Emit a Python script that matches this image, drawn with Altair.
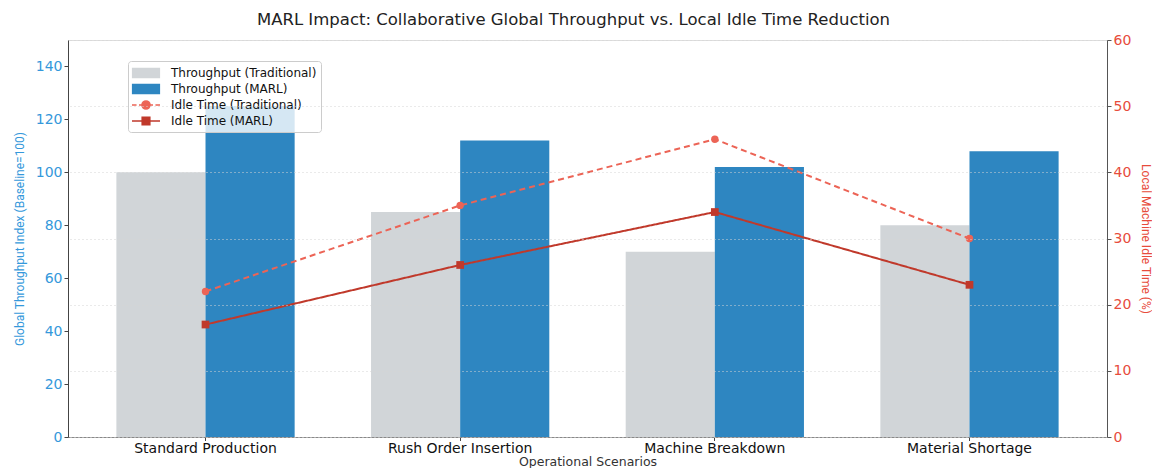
import altair as alt
import pandas as pd

scenarios = ["Standard Production", "Rush Order Insertion", "Machine Breakdown", "Material Shortage"]
throughput_traditional = [100, 85, 70, 80]
throughput_marl = [125, 112, 102, 108]
idle_traditional = [22, 35, 45, 30]
idle_marl = [17, 26, 34, 23]

series_names = ["Throughput (Traditional)", "Throughput (MARL)", "Idle Time (Traditional)", "Idle Time (MARL)"]
series_colors = ["#d1d5d8", "#2e86c1", "#ec6456", "#c0392b"]

bars_df = pd.DataFrame(
    [{"scenario": s, "series": series_names[0], "value": v} for s, v in zip(scenarios, throughput_traditional)]
    + [{"scenario": s, "series": series_names[1], "value": v} for s, v in zip(scenarios, throughput_marl)]
)
lines_df = pd.DataFrame(
    [{"scenario": s, "series": series_names[2], "value": v} for s, v in zip(scenarios, idle_traditional)]
    + [{"scenario": s, "series": series_names[3], "value": v} for s, v in zip(scenarios, idle_marl)]
)

H_FONT = "DejaVu Sans"
V_FONT = "Roboto"

x_enc = alt.X(
    "scenario:N",
    sort=scenarios,
    scale=alt.Scale(paddingInner=0.3, paddingOuter=0.19),
    axis=alt.Axis(
        title="Operational Scenarios",
        titleFont=H_FONT, titleFontSize=12.5, titleFontWeight="normal", titleColor="#333",
        titlePadding=0,
        labelAngle=0, labelFont=H_FONT, labelFontSize=14, labelColor="#111", labelPadding=1,
        domainColor="#888", tickColor="#444", tickSize=3.5,
    ),
)

# colour mapping used by the plotted marks (domain listed in reverse order so that
# it stays a separate legend group from the custom legend below)
color_scale = alt.Scale(domain=series_names[::-1], range=series_colors[::-1])

bars = alt.Chart(bars_df).mark_bar().encode(
    x=x_enc,
    xOffset=alt.XOffset("series:N", sort=series_names[:2], scale=alt.Scale(paddingInner=0, paddingOuter=0)),
    y=alt.Y(
        "value:Q",
        scale=alt.Scale(domain=[0, 150], nice=False),
        axis=alt.Axis(
            title="Global Throughput Index (Baseline=100)",
            values=[0, 20, 40, 60, 80, 100, 120, 140],
            grid=False,
            titleFont=V_FONT, titleFontSize=12, titleFontWeight="normal", titleColor="#3498db",
            titlePadding=9,
            labelFont=H_FONT, labelFontSize=14, labelColor="#3498db",
            domainColor="#444", tickColor="#444", tickSize=4,
        ),
    ),
    color=alt.Color("series:N", scale=color_scale, legend=None),
)

y_right = alt.Y(
    "value:Q",
    scale=alt.Scale(domain=[0, 60], nice=False),
    axis=alt.Axis(
        orient="right",
        title="Local Machine Idle Time (%)",
        values=[0, 10, 20, 30, 40, 50, 60],
        grid=True, gridColor="#d4d4d4", gridDash=[1, 3], gridWidth=1,
        titleFont=V_FONT, titleFontSize=12, titleFontWeight="normal", titleColor="#e74c3c",
        titlePadding=8,
        labelFont=H_FONT, labelFontSize=14, labelColor="#e74c3c",
        domainColor="#555", tickColor="#555", tickSize=4,
        zindex=1,
    ),
)

# legend glyphs (unit = 7 px with symbolSize 196)
rect_path = "M-1.9,-0.62H1.9V0.62H-1.9Z"
dash_circle_path = (
    "M-2,0H-1.35M-1.0,0H-0.4M0.4,0H1.0M1.35,0H2"
    "M0.57,0A0.57,0.57 0 1 1 -0.57,0A0.57,0.57 0 1 1 0.57,0Z"
)
line_square_path = "M-2,0H2M-0.54,-0.54H0.54V0.54H-0.54Z"

legend_layer = alt.Chart(lines_df).mark_point(size=0, opacity=1, filled=True).encode(
    x=x_enc,
    y=y_right,
    fill=alt.Fill(
        "series:N",
        scale=alt.Scale(domain=series_names, range=series_colors),
        legend=alt.Legend(
            title=None, orient="none", legendX=60, legendY=21,
            fillColor="rgba(255,255,255,0.8)", strokeColor="#cccccc", cornerRadius=3,
            padding=4, rowPadding=-1.5,
            labelFont=H_FONT, labelFontSize=12, labelColor="#111", labelOffset=17,
            symbolSize=196, symbolOffset=6, symbolStrokeWidth=1.6, symbolOpacity=1,
        ),
    ),
    stroke=alt.Stroke("series:N", scale=alt.Scale(domain=series_names, range=series_colors)),
    shape=alt.Shape(
        "series:N",
        scale=alt.Scale(domain=series_names, range=[rect_path, rect_path, dash_circle_path, line_square_path]),
    ),
)

lines = alt.Chart(lines_df).mark_line(strokeWidth=2).encode(
    x=x_enc,
    y=y_right,
    color=alt.Color("series:N", scale=color_scale, legend=None),
    strokeDash=alt.StrokeDash(
        "series:N",
        scale=alt.Scale(domain=series_names[:1:-1], range=[[1, 0], [6, 4]]),
        legend=None,
    ),
)

circles = alt.Chart(lines_df).transform_filter(
    alt.datum.series == series_names[2]
).mark_circle(size=55, opacity=1).encode(
    x=x_enc, y=y_right,
    color=alt.Color("series:N", scale=color_scale, legend=None),
)

squares = alt.Chart(lines_df).transform_filter(
    alt.datum.series == series_names[3]
).mark_square(size=60, opacity=1).encode(
    x=x_enc, y=y_right,
    color=alt.Color("series:N", scale=color_scale, legend=None),
)

right_layer = alt.layer(legend_layer, lines, circles, squares)

chart = alt.layer(bars, right_layer).resolve_scale(y="independent").properties(
    width=1039,
    height=397,
    autosize=alt.AutoSizeParams(type="none"),
    padding={"left": 60, "top": 32, "right": 45, "bottom": 31},
    title=alt.TitleParams(
        "MARL Impact: Collaborative Global Throughput vs. Local Idle Time Reduction",
        font=H_FONT, fontSize=16.5, fontWeight="normal", color="#222",
        anchor="middle", offset=5, dx=-14,
    ),
).configure_view(stroke="#999", strokeWidth=1.2).configure(background="white")

chart.save("out.html", embed_options={"renderer": "svg", "actions": False})
